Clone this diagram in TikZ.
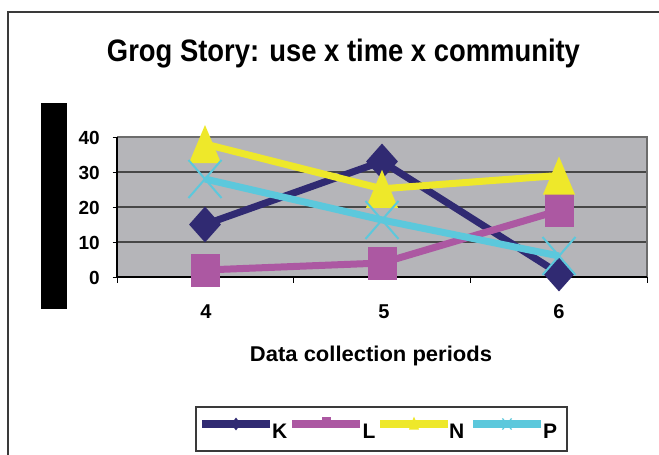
\documentclass[tikz,border=0pt]{standalone}
\usepackage{fontspec}
\setmainfont{Liberation Sans}
\usetikzlibrary{shapes.geometric,shapes.misc}
\definecolor{kcol}{HTML}{302A72}
\definecolor{lcol}{HTML}{AC58A2}
\definecolor{ncol}{HTML}{EEE82A}
\definecolor{pcol}{HTML}{5CC8DC}
\definecolor{plotbg}{HTML}{B5B5B9}
\definecolor{gridc}{HTML}{474747}
\definecolor{framec}{HTML}{3A3A3A}
\tikzset{
  series/.style={line width=7pt, line join=round},
  kmark/.style={diamond, fill=kcol, inner sep=0pt, minimum width=32pt, minimum height=36pt},
  lmark/.style={rectangle, fill=lcol, inner sep=0pt, minimum width=29pt, minimum height=33pt},
  nmark/.style={rectangle, inner sep=0pt, minimum width=32pt, minimum height=38pt,
    path picture={\fill[ncol] (path picture bounding box.north) -- (path picture bounding box.south east) -- (path picture bounding box.south west) -- cycle;}},
  pmark/.style={cross out, draw=pcol, line width=2pt, inner sep=0pt, minimum width=31pt, minimum height=36pt},
  ticklab/.style={font=\fontsize{19}{19}\selectfont\bfseries, inner sep=0pt},
  catlab/.style={font=\fontsize{20}{20}\selectfont\bfseries, inner sep=0pt, anchor=base},
  leglab/.style={font=\fontsize{21}{21}\selectfont\bfseries, inner sep=0pt, anchor=base west},
  legline/.style={line width=8pt},
}
\begin{document}
\begin{tikzpicture}[x=1pt,y=-1pt]
\useasboundingbox (0,0) rectangle (659,455);
% outer frame
\draw[framec, line width=1.2pt] (8,455) -- (8,12) -- (659,12);
% title
\node[inner sep=0pt, anchor=base] (title) at (343.5,61) {\resizebox{473pt}{22.5pt}{\bfseries Grog Story: use x time x community}};
% black bar
\fill[black] (41,103) rectangle (67,309);
% plot area
\fill[plotbg] (117,137) rectangle (647,277);
\draw[gray!85!black, line width=2pt] (117,137) -- (647,137) -- (647,277);
\foreach \v in {10,20,30} \draw[gridc, line width=1.3pt] (117,{277-3.5*\v}) -- (646,{277-3.5*\v});
% axes
\draw[black, line width=1.2pt] (117,137) -- (117,277) -- (647,277);
\foreach \v in {0,10,20,30,40} \draw[black, line width=1pt] (112.5,{277-3.5*\v}) -- (117,{277-3.5*\v});
\foreach \x in {117,293,470,647} \draw[black, line width=1pt] (\x,277) -- (\x,283);
% tick labels
\node[ticklab, anchor=east] (t40) at (100,{277-3.5*40+1}) {40};
\node[ticklab, anchor=east] (t30) at (100,{277-3.5*30+1}) {30};
\node[ticklab, anchor=east] (t20) at (100,{277-3.5*20+1}) {20};
\node[ticklab, anchor=east] (t10) at (100,{277-3.5*10+1}) {10};
\node[ticklab, anchor=east] (t0) at (100,{277+1}) {0};
\node[catlab] (c4) at (206,318) {4};
\node[catlab] (c5) at (384,318) {5};
\node[catlab] (c6) at (559,318) {6};
% axis title
\node[inner sep=0pt, anchor=base] (xtitle) at (371,361) {\resizebox{242pt}{15.5pt}{\bfseries Data collection periods}};
% series K
\coordinate (k4) at (205,{277-3.5*15});
\coordinate (k5) at (382,{277-3.5*33});
\coordinate (k6) at (559,{277-3.5*1});
\draw[series, kcol] (k4) -- (k5) -- (k6);
\node[kmark] (k4m) at (k4) {};
\node[kmark] (k5m) at (k5) {};
\node[kmark] (k6m) at (k6) {};
% series L
\coordinate (l4) at (205,{277-3.5*2});
\coordinate (l5) at (382,{277-3.5*4});
\coordinate (l6) at (559,{277-3.5*19});
\draw[series, lcol] (l4) -- (l5) -- (l6);
\node[lmark] (l4m) at (l4) {};
\node[lmark] (l5m) at (l5) {};
\node[lmark] (l6m) at (l6) {};
% series N
\coordinate (n4) at (205,{277-3.5*38});
\coordinate (n5) at (382,{277-3.5*25.2});
\coordinate (n6) at (559,{277-3.5*29});
\draw[series, ncol] (n4) -- (n5) -- (n6);
\node[nmark] (n4m) at (n4) {};
\node[nmark] (n5m) at (n5) {};
\node[nmark] (n6m) at (n6) {};
% series P
\coordinate (p4) at (205,{277-3.5*28});
\coordinate (p5) at (382,{277-3.5*16.3});
\coordinate (p6) at (559,{277-3.5*6});
\draw[series, pcol] (p4) -- (p5) -- (p6);
\node[pmark] (p4m) at (p4) {};
\node[pmark] (p5m) at (p5) {};
\node[pmark] (p6m) at (p6) {};
% legend
\draw[framec, line width=1.2pt] (196,407) rectangle (567,451);
\coordinate (lk1) at (202,424); \coordinate (lk2) at (270,424);
\coordinate (ll1) at (292,424); \coordinate (ll2) at (360,424);
\coordinate (ln1) at (380,424); \coordinate (ln2) at (448,424);
\coordinate (lp1) at (473,424); \coordinate (lp2) at (541,424);
\draw[legline, kcol] (lk1) -- (lk2);
\node[kmark, minimum width=10pt, minimum height=13pt] (lkm) at (236,424) {};
\draw[legline, lcol] (ll1) -- (ll2);
\node[lmark, minimum width=9pt, minimum height=11pt] (llm) at (326,422) {};
\draw[legline, ncol] (ln1) -- (ln2);
\node[nmark, minimum width=10pt, minimum height=13pt] (lnm) at (414,423) {};
\draw[legline, pcol] (lp1) -- (lp2);
\node[pmark, line width=1.2pt, minimum width=8pt, minimum height=10pt] (lpm) at (507,424) {};
\node[leglab] (lkl) at (272,438) {K};
\node[leglab] (lll) at (362.5,438) {L};
\node[leglab] (lnl) at (449,438) {N};
\node[leglab] (lpl) at (543,438) {P};
\end{tikzpicture}
\end{document}
